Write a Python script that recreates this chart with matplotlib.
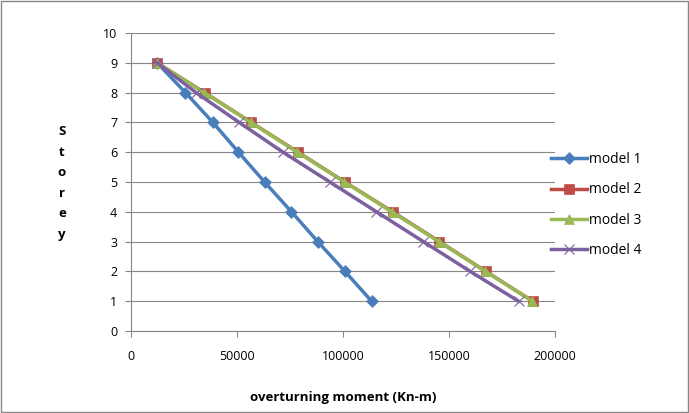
import matplotlib
matplotlib.use("Agg")
import matplotlib.pyplot as plt
from matplotlib.patches import Rectangle

plt.rcParams['font.family'] = ['Open Sans', 'DejaVu Sans']

# data
story = [9, 8, 7, 6, 5, 4, 3, 2, 1]
model_1 = [12300, 25700, 38600, 50700, 63000, 75700, 88100, 100900, 113500]
model_2 = [12300, 34700, 56700, 78800, 100900, 123400, 145500, 167400, 189500]
model_3 = [12300, 34500, 56500, 78500, 100700, 123000, 145200, 167200, 189300]
model_4 = [12300, 30700, 51000, 71700, 93800, 115800, 137900, 160000, 182800]

x_ticks = [0, 50000, 100000, 150000, 200000]
y_ticks = list(range(0, 11))

series = [
    ('model 1', model_1, '#4A7EBB', 'D', 6),
    ('model 2', model_2, '#BE4B48', 's', 7),
    ('model 3', model_3, '#98B954', '^', 7),
    ('model 4', model_4, '#7D60A0', 'x', 7),
]

fig = plt.figure(figsize=(6.89, 4.13), dpi=100)
ax = fig.add_axes([131 / 689, 1 - 331 / 413, (555 - 131) / 689, (331 - 33) / 413])

for name, vals, col, mk, ms in series:
    ax.plot(vals, story, color=col, marker=mk, markersize=ms, linewidth=2.5,
            markeredgewidth=0.8 if mk == 'x' else 0.5, label=name)

ax.set_xlim(0, 200000)
ax.set_ylim(0, 10)
ax.set_xticks(x_ticks)
ax.set_yticks(y_ticks)
ax.set_xticklabels([str(v) for v in x_ticks])
ax.tick_params(axis='both', labelsize=9, direction='out', length=4, color='#868686')
ax.tick_params(axis='x', pad=10)
ax.tick_params(axis='y', pad=6)
ax.grid(axis='y', color='#868686', linewidth=0.8)
ax.set_axisbelow(True)
for s in ['top', 'right']:
    ax.spines[s].set_visible(False)
for s in ['left', 'bottom']:
    ax.spines[s].set_color('#868686')

ax.set_xlabel('overturning moment (Kn-m)', fontsize=9.5, fontweight='bold', labelpad=20)
fig.text(62 / 689, 1 - 183 / 413, 'S\nt\no\nr\ne\ny', fontsize=9.5, fontweight='bold',
         ha='center', va='center', linespacing=1.75)

fig.legend(loc='center left', bbox_to_anchor=(538 / 689, 1 - 205 / 413), frameon=False,
           fontsize=10, handlelength=2.6, handletextpad=0.2, labelspacing=1.1)

fig.patches.append(Rectangle((0.002, 0.002), 0.996, 0.996, transform=fig.transFigure,
                             fill=False, edgecolor='#868686', linewidth=1))

fig.savefig('out.png', dpi=100)
